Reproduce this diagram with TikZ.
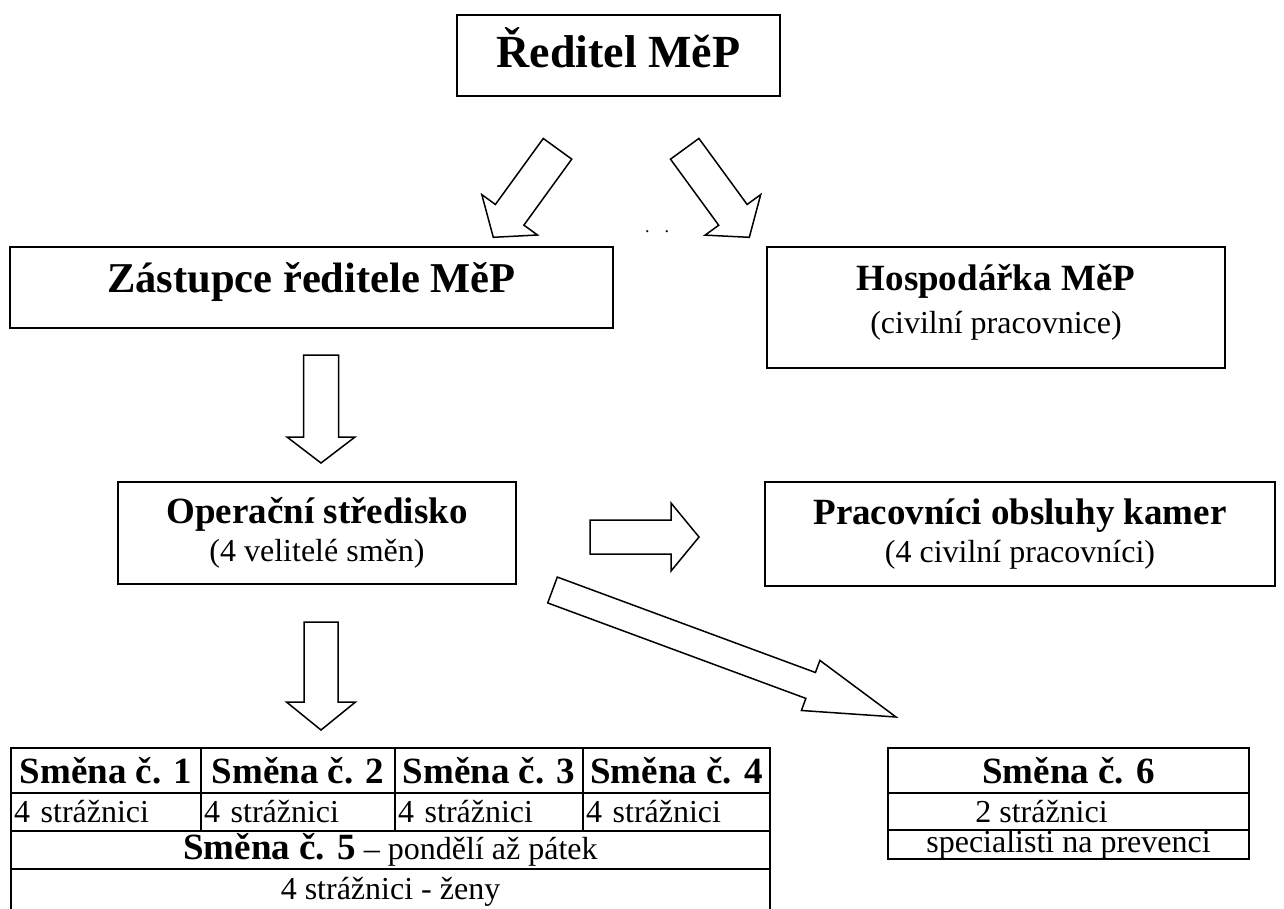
\documentclass[tikz,border=0pt]{standalone}
\usepackage{fontspec}
\setmainfont{Liberation Serif}
\usetikzlibrary{calc}

\newcommand{\topb}{\fontsize{46}{55}\selectfont\bfseries}
\newcommand{\subb}{\fontsize{42.5}{50}\selectfont\bfseries}
\newcommand{\midb}{\fontsize{37}{36}\selectfont\bfseries}
\newcommand{\midr}{\fontsize{32}{36}\selectfont}

\tikzset{
  box/.style={draw, line width=2pt, inner sep=0pt, align=center},
  cell/.style={draw, line width=2pt, inner sep=0pt, anchor=north west},
  blockar/.style={draw, line width=1.5pt, line join=miter},
}

% block arrow: tail, tip, shaft half width, head half width, head length
\newcommand{\blockarrow}[5]{%
  \coordinate (hb) at ($(#2)!#5!(#1)$);
  \draw[blockar] ($(#1)!#3!90:(#2)$) -- ($(hb)!#3!90:(#2)$) -- ($(hb)!#4!90:(#2)$)
    -- (#2) -- ($(hb)!#4!-90:(#2)$) -- ($(hb)!#3!-90:(#2)$) -- ($(#1)!#3!-90:(#2)$) -- cycle;
}

\begin{document}
\begin{tikzpicture}[x=1pt,y=-1pt]
    \path[use as bounding box, fill=white] (0,0) rectangle (1284,908);

    \node[box, minimum width=323pt, minimum height=81pt, text depth=16pt, font=\topb] (reditel) at (618.5,55.5) {Ředitel MěP};
    \node[box, minimum width=603pt, minimum height=81pt, text depth=19pt, font=\subb] (zastupce) at (311.5,287.5) {Zástupce ředitele MěP};
    \node[box, minimum width=458pt, minimum height=121pt, text depth=17pt, font=\midr] (hosp) at (996,307.5)
      {{\midb Hospodářka MěP}\\[7pt](civilní pracovnice)};
    \node[box, minimum width=398pt, minimum height=102pt, font=\midr] (oper) at (317,533)
      {{\midb Operační středisko}\\[2pt](4 velitelé směn)};
    \node[box, minimum width=510pt, minimum height=104pt, font=\midr] (kamery) at (1020,534)
      {{\midb Pracovníci obsluhy kamer}\\[2pt](4 civilní pracovníci)};
    \node[font=\fontsize{18}{18}\selectfont] (tecky) at (657,232) {.\hspace{15pt}.};

    % sipky
    \coordinate (red-l) at (557.5,148.8);  \coordinate (zas-top) at (493.3,237.3);
    \coordinate (red-r) at (684.7,148.8);  \coordinate (hosp-top) at (749.3,237.3);
    \coordinate (zas-bot) at (321,355);    \coordinate (oper-top) at (321,463);
    \coordinate (oper-r) at (590,537);     \coordinate (kam-l) at (699,537);
    \coordinate (oper-bot) at (321,622);   \coordinate (tab-top) at (321,730);
    \coordinate (oper-diag) at (552.5,590); \coordinate (s6-top) at (896,717);
    \blockarrow{red-l}{zas-top}{17.6pt}{34.4pt}{27.8pt}
    \blockarrow{red-r}{hosp-top}{17.6pt}{34.4pt}{27.8pt}
    \blockarrow{zas-bot}{oper-top}{17.5pt}{34pt}{26pt}
    \blockarrow{oper-r}{kam-l}{17pt}{34pt}{28pt}
    \blockarrow{oper-bot}{tab-top}{17pt}{34.5pt}{28pt}
    \blockarrow{oper-diag}{s6-top}{13.8pt}{26.7pt}{91pt}

    % smeny 1-5
    \node[cell, minimum width=190pt, minimum height=45pt, font=\midb] (s1) at (10,747) {Směna č. 1};
    \node[cell, minimum width=194pt, minimum height=45pt, font=\midb] (s2) at (200,747) {Směna č. 2};
    \node[cell, minimum width=188pt, minimum height=45pt, font=\midb] (s3) at (394,747) {Směna č. 3};
    \node[cell, minimum width=187pt, minimum height=45pt, font=\midb] (s4) at (582,747) {Směna č. 4};
    \node[cell, minimum height=38pt, text width=184pt, inner xsep=3pt, align=left, font=\midr] (p1) at (10,792) {4 strážnici};
    \node[cell, minimum height=38pt, text width=188pt, inner xsep=3pt, align=left, font=\midr] (p2) at (200,792) {4 strážnici};
    \node[cell, minimum height=38pt, text width=182pt, inner xsep=3pt, align=left, font=\midr] (p3) at (394,792) {4 strážnici};
    \node[cell, minimum height=38pt, text width=181pt, inner xsep=3pt, align=left, font=\midr] (p4) at (582,792) {4 strážnici};
    \node[cell, minimum width=759pt, minimum height=38pt, font=\midr] (s5) at (10,830) {{\midb Směna č. 5} – pondělí až pátek};
    \node[cell, minimum width=759pt, minimum height=46pt, font=\midr] (p5) at (10,868) {4 strážnici - ženy};

    % smena 6
    \node[cell, minimum width=361pt, minimum height=45pt, font=\midb] (s6) at (887,747) {Směna č. 6};
    \node[cell, minimum width=361pt, minimum height=37pt, font=\midr] (p6) at (887,792) {2 strážnici\hspace*{54pt}};
    \node[cell, minimum width=361pt, minimum height=29pt, font=\midr] (v6) at (887,829) {specialisti na prevenci};
\end{tikzpicture}
\end{document}
